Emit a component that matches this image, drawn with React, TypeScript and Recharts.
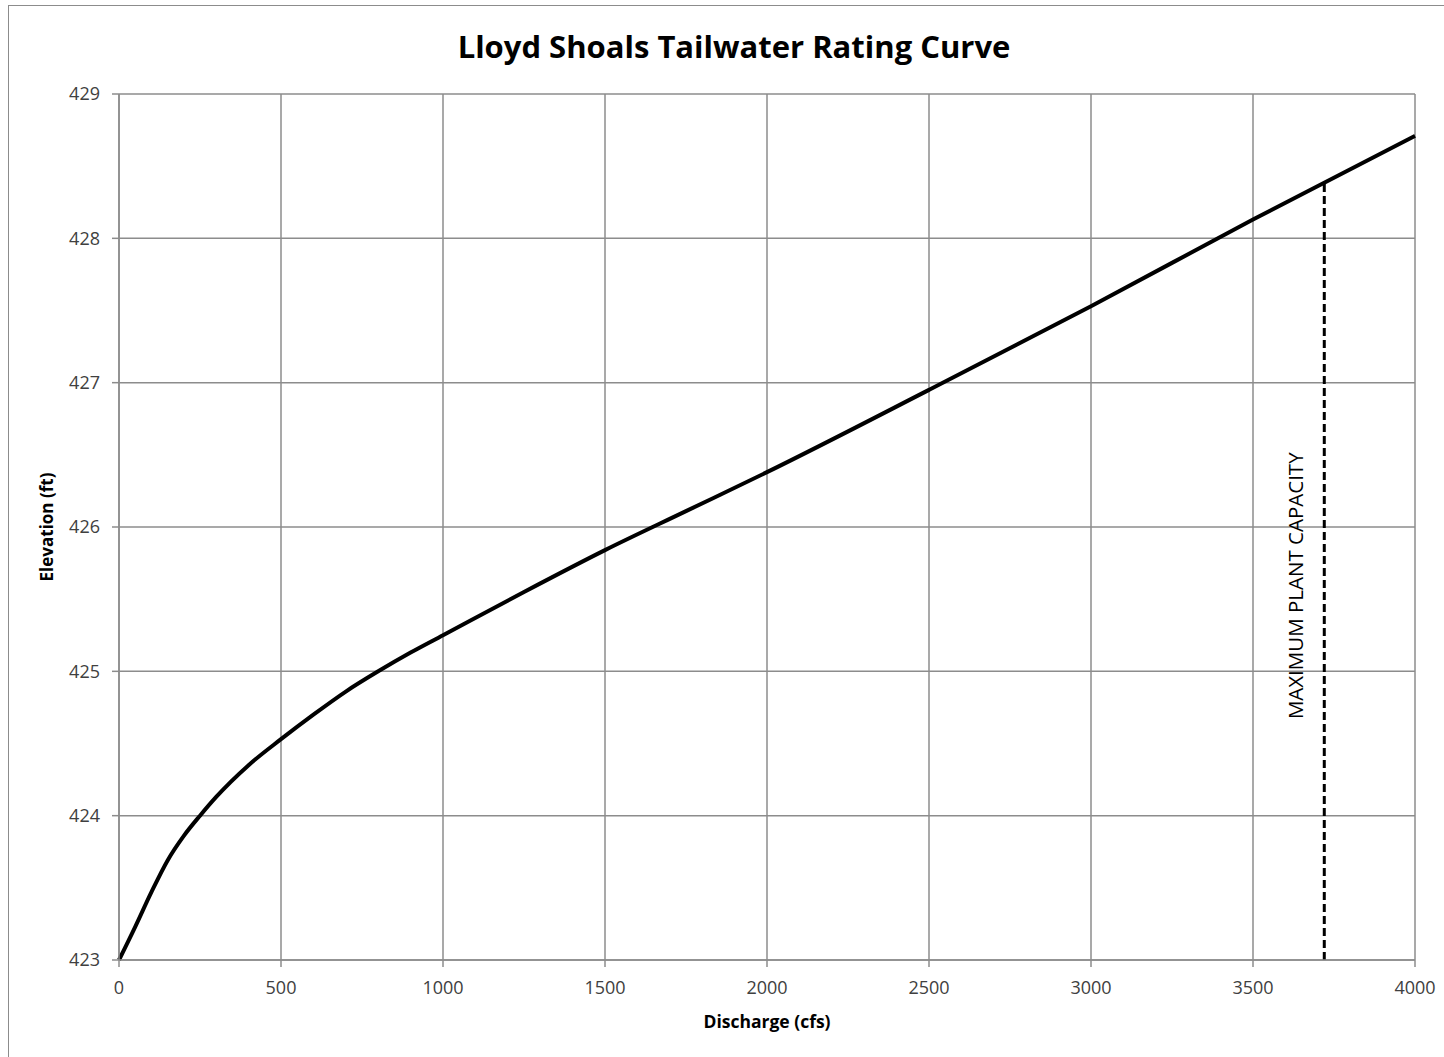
import { LineChart, Line, XAxis, YAxis, CartesianGrid, ReferenceLine, Label } from "recharts";

const discharge = [0, 50, 100, 150, 200, 250, 300, 400, 500, 600, 700, 800, 900, 1000, 1250, 1500, 1750, 2000, 2500, 3000, 3500, 4000];
const elevation = [423.0, 423.23, 423.47, 423.69, 423.86, 424.0, 424.13, 424.35, 424.53, 424.7, 424.86, 425.0, 425.13, 425.25, 425.55, 425.84, 426.11, 426.38, 426.95, 427.53, 428.13, 428.71];
const xTicks = [0, 500, 1000, 1500, 2000, 2500, 3000, 3500, 4000];
const yTicks = [423, 424, 425, 426, 427, 428, 429];
const maxCapacity = 3720;
const maxCapacityElev = 428.38;

const data = discharge.map((q, i) => ({ q, e: elevation[i] }));

const FONT = "'Open Sans', sans-serif";
const GRID = "#8c8c8c";

function CapacityLabel(props: any) {
  const vb = props.viewBox || {};
  const x = vb.x - 29;
  const y = vb.y + vb.height / 2 + 14;
  return (
    <text
      x={x}
      y={y}
      transform={`rotate(-90 ${x} ${y})`}
      textAnchor="middle"
      dominantBaseline="central"
      fontFamily={FONT}
      fontSize={20.5}
      fill="#000"
    >
      MAXIMUM PLANT CAPACITY
    </text>
  );
}

export default function App() {
  return (
    <div style={{ position: "fixed", left: 0, top: 0, width: 1444, height: 1057, overflow: "hidden", background: "#fff" }}>
      <div
        style={{
          position: "absolute",
          left: 8,
          top: 5,
          width: 1600,
          height: 1200,
          border: "1.5px solid #8c8c8c",
        }}
      />
      <div
        style={{
          position: "absolute",
          left: 0,
          top: 26,
          width: 1468,
          textAlign: "center",
          fontFamily: FONT,
          fontWeight: 700,
          fontSize: 31,
          color: "#000",
          lineHeight: "40px",
        }}
      >
        Lloyd Shoals Tailwater Rating Curve
      </div>
      <div style={{ position: "absolute", left: 0, top: 0 }}>
        <LineChart width={1444} height={1057} data={data} margin={{ top: 94, right: 29, left: 0, bottom: 0 }}>
          <CartesianGrid stroke={GRID} strokeWidth={1.5} horizontalValues={yTicks} verticalValues={xTicks} />
          <XAxis
            dataKey="q"
            type="number"
            domain={[0, 4000]}
            ticks={xTicks}
            height={97}
            tickSize={7}
            tickMargin={14}
            axisLine={{ stroke: GRID, strokeWidth: 1.5 }}
            tickLine={{ stroke: GRID, strokeWidth: 1.5 }}
            tick={{ fill: "#404040", fontSize: 18, fontFamily: FONT }}
          >
            <Label
              value="Discharge (cfs)"
              position="insideBottom"
              offset={29}
              style={{ fontFamily: FONT, fontWeight: 700, fontSize: 17.5, fill: "#000" }}
            />
          </XAxis>
          <YAxis
            type="number"
            domain={[423, 429]}
            ticks={yTicks}
            width={119}
            tickSize={7}
            tickMargin={12}
            axisLine={{ stroke: GRID, strokeWidth: 1.5 }}
            tickLine={{ stroke: GRID, strokeWidth: 1.5 }}
            tick={{ fill: "#404040", fontSize: 18, fontFamily: FONT }}
          >
            <Label
              value="Elevation (ft)"
              angle={-90}
              position="insideLeft"
              offset={47}
              style={{ textAnchor: "middle", fontFamily: FONT, fontWeight: 700, fontSize: 17, fill: "#000" }}
            />
          </YAxis>
          <ReferenceLine
            segment={[
              { x: maxCapacity, y: 423 },
              { x: maxCapacity, y: maxCapacityElev },
            ]}
            stroke="#000"
            strokeWidth={3}
            strokeDasharray="8 4"
            label={<CapacityLabel />}
          />
          <Line
            type="monotone"
            dataKey="e"
            stroke="#000"
            strokeWidth={4}
            dot={false}
            isAnimationActive={false}
          />
        </LineChart>
      </div>
    </div>
  );
}
